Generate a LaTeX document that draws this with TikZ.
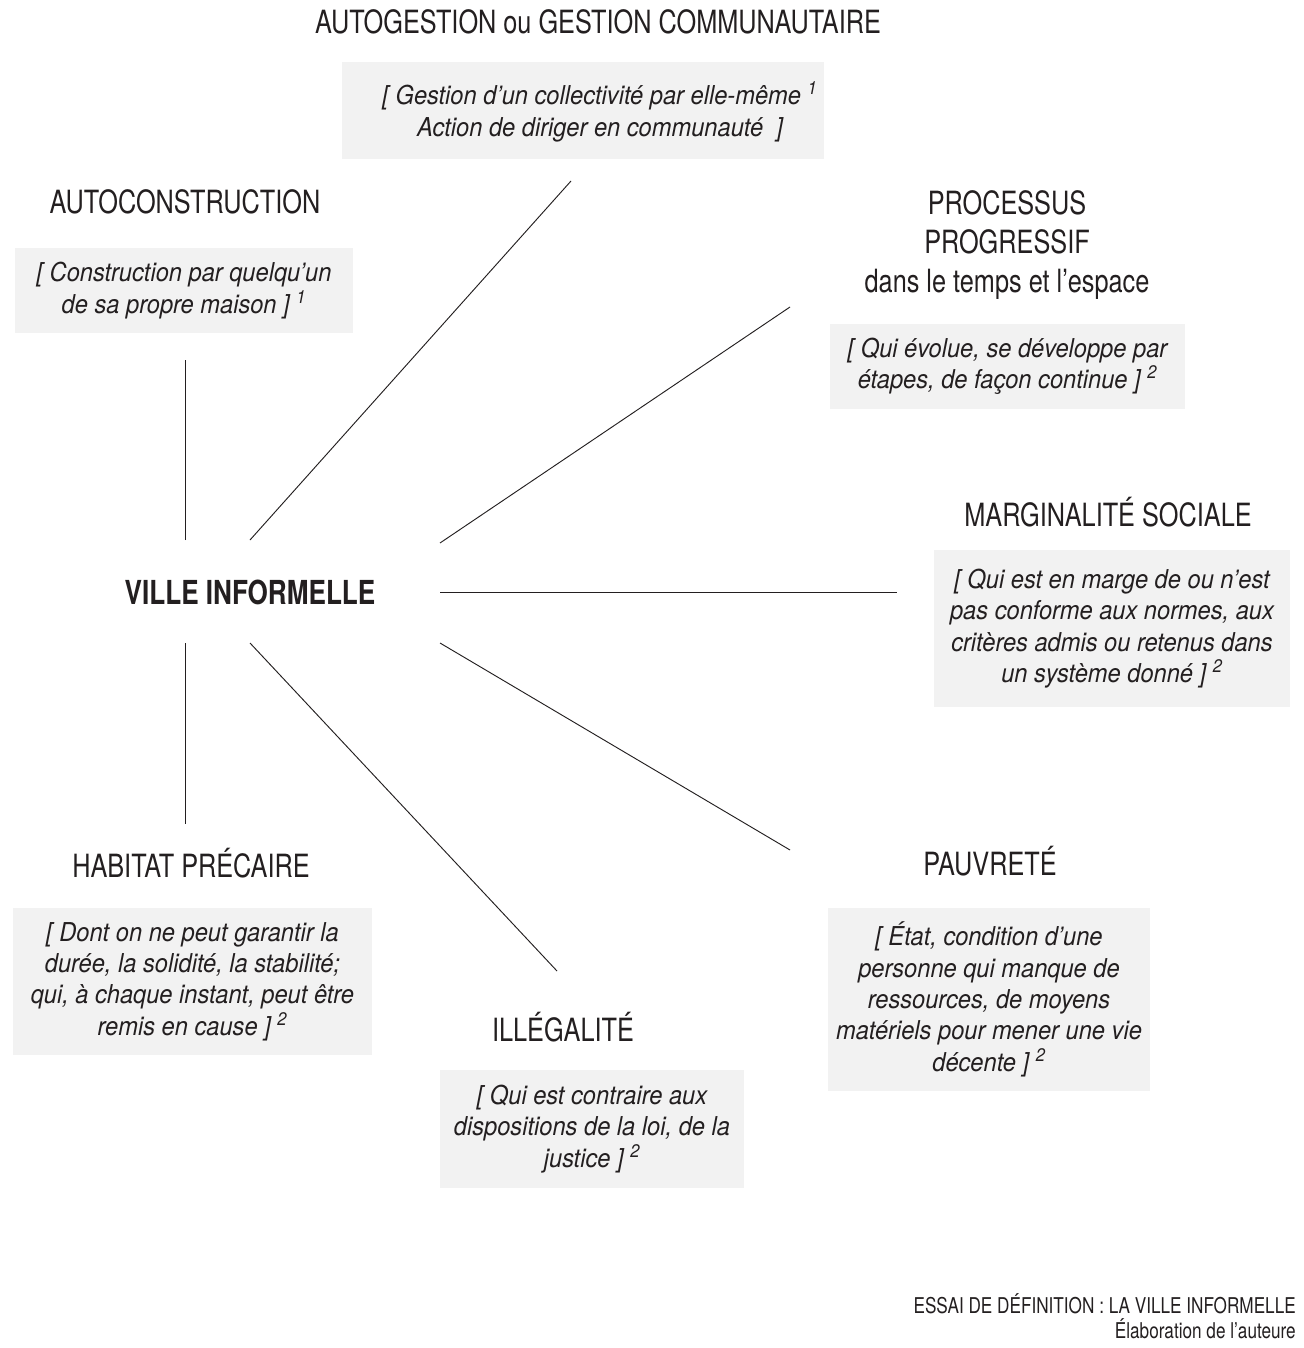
\documentclass[tikz,border=0pt]{standalone}
\usepackage{fontspec}
\setmainfont{TeX Gyre Heros}[FakeStretch=0.79]
\newfontfamily\defitfont{TeX Gyre Heros}[FakeStretch=0.91]
\definecolor{boxgray}{HTML}{F2F2F2}
\definecolor{ink}{HTML}{231F20}
\begin{document}
\begin{tikzpicture}[x=0.75pt,y=-0.75pt,
  head/.style={font=\fontsize{24}{29.25}\selectfont, text=ink, align=center, inner sep=0pt},
  defbox/.style={fill=boxgray, inner sep=0pt, align=center, text=ink, font=\defitfont\fontsize{19.5}{23.5}\selectfont\itshape},
  deftext/.style={inner sep=0pt, align=center, text=ink, font=\defitfont\fontsize{19.5}{23.5}\selectfont\itshape},
  link/.style={draw=ink, line width=0.7pt}]
\useasboundingbox (0,0) rectangle (1303,1348);
\fill[white] (0,0) rectangle (1303,1348);

% headings
\node[head, anchor=base] (tAuto) at (598,33.5) {AUTOGESTION ou GESTION COMMUNAUTAIRE};
\node[head, anchor=base] (tCons) at (185,213.5) {AUTOCONSTRUCTION};
\node[head] (tProc) at (1007,245) {PROCESSUS\\PROGRESSIF\\dans le temps et l’espace};
\node[head, anchor=base] (tMarg) at (1108,526.5) {MARGINALITÉ SOCIALE};
\node[head, anchor=base, font=\fontsize{24.8}{29.25}\selectfont\bfseries] (ville) at (250,604) {VILLE INFORMELLE};
\node[head, anchor=base] (tHab) at (191,877.5) {HABITAT PRÉCAIRE};
\node[head, anchor=base] (tIll) at (563,1041.5) {ILLÉGALITÉ};
\node[head, anchor=base] (tPauv) at (990,875.5) {PAUVRETÉ};

% definition boxes
\node[defbox, minimum width=361.5pt, minimum height=72.75pt] (dAutoBox) at (583,110.5) {};
\node[deftext] (dAuto) at (600,112)
  {[ Gestion d’un collectivité par elle-même \textsuperscript{1}\\Action de diriger en communauté\ \ ]};
\node[defbox, minimum width=253.5pt, minimum height=63.75pt] (dCons) at (184,290.5)
  {[ Construction par quelqu’un\\de sa propre maison ] \textsuperscript{1}};
\node[defbox, minimum width=266.25pt, minimum height=63.75pt] (dProc) at (1007.5,366.5)
  {[ Qui évolue, se développe par\\étapes, de façon continue ] \textsuperscript{2}};
\node[defbox, minimum width=267pt, minimum height=117.75pt] (dMarg) at (1112,628.5)
  {[ Qui est en marge de ou n’est\\pas conforme aux normes, aux\\critères admis ou retenus dans\\un système donné ] \textsuperscript{2}};
\node[defbox, minimum width=269.25pt, minimum height=110.25pt] (dHab) at (192.5,981.5)
  {[ Dont on ne peut garantir la\\durée, la solidité, la stabilité;\\qui, à chaque instant, peut être\\remis en cause ] \textsuperscript{2}};
\node[defbox, minimum width=228pt, minimum height=88.5pt] (dIll) at (592,1129)
  {[ Qui est contraire aux\\dispositions de la loi, de la\\justice ] \textsuperscript{2}};
\node[defbox, minimum width=241.5pt, minimum height=137.25pt] (dPauv) at (989,999.5)
  {[ État, condition d’une\\personne qui manque de\\ressources, de moyens\\matériels pour mener une vie\\décente ] \textsuperscript{2}};

% footer
\node[anchor=north east, align=right, inner sep=0pt, text=ink, font=\fontsize{16.3}{18.75}\selectfont] (foot) at (1296,1293)
  {ESSAI DE DÉFINITION : LA VILLE INFORMELLE\\Élaboration de l’auteure};

% connector end points
\coordinate (a1) at (250,540); \coordinate (b1) at (571,181);
\coordinate (a2) at (185,540); \coordinate (b2) at (185,360);
\coordinate (a3) at (440,543); \coordinate (b3) at (790,307);
\coordinate (a4) at (440,592); \coordinate (b4) at (897,592);
\coordinate (a5) at (440,643); \coordinate (b5) at (790,850);
\coordinate (a6) at (250,643); \coordinate (b6) at (557,971);
\coordinate (a7) at (185,643); \coordinate (b7) at (185,824);

\draw[link] (a1) -- (b1);
\draw[link] (a2) -- (b2);
\draw[link] (a3) -- (b3);
\draw[link] (a4) -- (b4);
\draw[link] (a5) -- (b5);
\draw[link] (a6) -- (b6);
\draw[link] (a7) -- (b7);
\end{tikzpicture}
\end{document}
